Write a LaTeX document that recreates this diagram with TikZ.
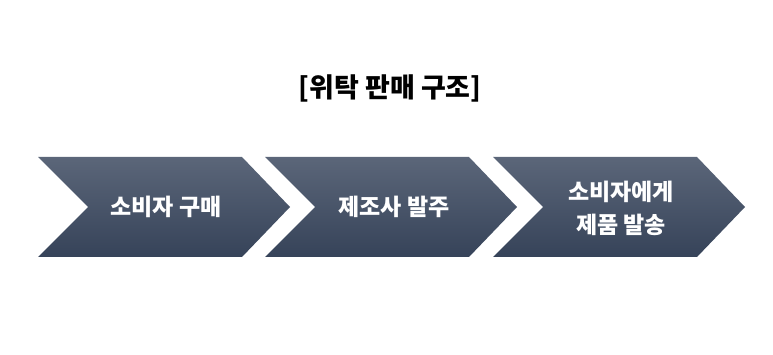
\documentclass[tikz,border=0pt]{standalone}
\usepackage{fontspec}
\newfontfamily\kr{Noto Sans CJK KR}
\begin{document}
\begin{tikzpicture}[x=1pt,y=-1pt,
  chev/.style={top color=topc,bottom color=botc,draw=none},
  lbl/.style={text=white,font=\kr\bfseries\fontsize{23}{33}\selectfont,align=center},
  ttl/.style={text=black,font=\kr\bfseries\fontsize{27}{30}\selectfont}]
\definecolor{topc}{HTML}{5B6679}
\definecolor{botc}{HTML}{364359}
\useasboundingbox (0,0) rectangle (773,355);
\foreach \o/\n in {0/c1,227/c2,455/c3}{
  \shade[chev] (38+\o,157) -- (242+\o,157) -- (290+\o,207) -- (242+\o,257) -- (38+\o,257) -- (88+\o,207) -- cycle;
}
\node[ttl] (title) at (390,88) {[위탁 판매 구조]};
\node[lbl] (t1) at (166,207) {소비자 구매};
\node[lbl] (t2) at (394,207) {제조사 발주};
\node[lbl] (t3) at (621,208) {소비자에게\\제품 발송};
\end{tikzpicture}
\end{document}
